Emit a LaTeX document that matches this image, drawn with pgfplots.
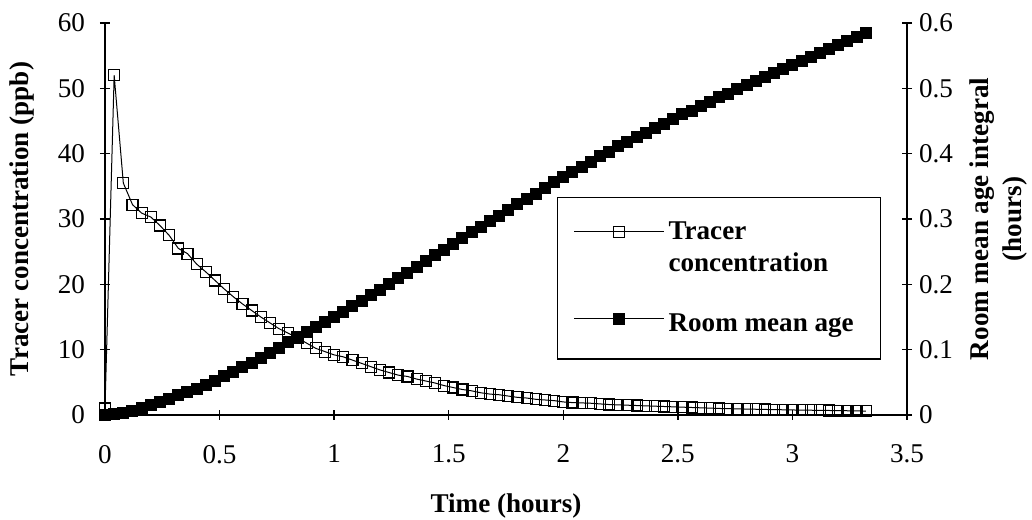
\documentclass[border=0pt]{standalone}
\usepackage{fontspec}
\setmainfont{Liberation Serif}
\usepackage{pgfplots}
\usepackage{pgfplotstable}
\pgfplotsset{compat=1.18}

\pgfplotstableread{
t c
0.00 1.0
0.04 52.0
0.08 35.5
0.12 32.2
0.16 30.9
0.20 30.3
0.24 29.0
0.28 27.5
0.32 25.5
0.36 24.7
0.40 23.1
0.44 21.9
0.48 20.6
0.52 19.3
0.56 18.1
0.60 17.0
0.64 16.0
0.68 15.0
0.72 14.1
0.76 13.2
0.80 12.5
0.84 11.8
0.88 11.0
0.92 10.2
0.96 9.7
1.00 9.2
1.04 8.9
1.08 8.4
1.12 7.9
1.16 7.4
1.20 6.9
1.24 6.5
1.28 6.1
1.32 5.9
1.36 5.5
1.40 5.2
1.44 4.9
1.48 4.5
1.52 4.2
1.56 3.9
1.60 3.7
1.64 3.4
1.68 3.2
1.72 3.1
1.76 2.9
1.80 2.7
1.84 2.6
1.88 2.4
1.92 2.3
1.96 2.2
2.00 2.0
2.04 1.9
2.08 1.85
2.12 1.8
2.16 1.7
2.20 1.6
2.24 1.55
2.28 1.5
2.32 1.45
2.36 1.4
2.40 1.35
2.44 1.3
2.48 1.25
2.52 1.2
2.56 1.15
2.60 1.1
2.64 1.05
2.68 1.0
2.72 0.97
2.76 0.94
2.80 0.91
2.84 0.88
2.88 0.85
2.92 0.82
2.96 0.8
3.00 0.77
3.04 0.75
3.08 0.73
3.12 0.71
3.16 0.69
3.20 0.67
3.24 0.65
3.28 0.63
3.32 0.6
}\tracer

\pgfplotstableread{
t a
0.00 0.000
0.04 0.001
0.08 0.003
0.12 0.006
0.16 0.010
0.20 0.015
0.24 0.020
0.28 0.025
0.32 0.030
0.36 0.035
0.40 0.040
0.44 0.046
0.48 0.052
0.52 0.059
0.56 0.066
0.60 0.073
0.64 0.080
0.68 0.088
0.72 0.095
0.76 0.103
0.80 0.111
0.84 0.119
0.88 0.127
0.92 0.134
0.96 0.142
1.00 0.150
1.04 0.158
1.08 0.167
1.12 0.175
1.16 0.184
1.20 0.192
1.24 0.201
1.28 0.210
1.32 0.218
1.36 0.227
1.40 0.236
1.44 0.245
1.48 0.253
1.52 0.262
1.56 0.271
1.60 0.280
1.64 0.288
1.68 0.297
1.72 0.305
1.76 0.314
1.80 0.323
1.84 0.331
1.88 0.339
1.92 0.348
1.96 0.356
2.00 0.364
2.04 0.372
2.08 0.380
2.12 0.388
2.16 0.396
2.20 0.403
2.24 0.411
2.28 0.418
2.32 0.425
2.36 0.432
2.40 0.439
2.44 0.446
2.48 0.453
2.52 0.460
2.56 0.466
2.60 0.473
2.64 0.479
2.68 0.486
2.72 0.492
2.76 0.499
2.80 0.505
2.84 0.511
2.88 0.518
2.92 0.524
2.96 0.530
3.00 0.536
3.04 0.542
3.08 0.548
3.12 0.554
3.16 0.560
3.20 0.566
3.24 0.572
3.28 0.578
3.32 0.584
}\roomage

\begin{document}
\begin{tikzpicture}
\pgfplotsset{
  common/.style={
    scale only axis, width=401bp, height=196bp,
    xmin=0, xmax=3.5,
    tick align=center, major tick length=5bp,
    tick style={line width=0.75bp, black},
    /pgf/number format/assume math mode=true,
    tick label style={font=\fontsize{13.6}{16}\selectfont},
    label style={font=\fontsize{13.6}{16}\selectfont\bfseries},
  },
  tracerstyle/.style={black, line width=0.5bp, mark=square, mark size=2.75bp,
    mark options={fill=white, line width=0.6bp, solid}},
  agestyle/.style={black, line width=0.5bp, mark=square*, mark size=2.75bp,
    mark options={fill=black, solid}},
}
\begin{axis}[common,
  axis x line=bottom, axis y line=left,
  x axis line style={-, line width=0.75bp, black},
  y axis line style={-, line width=0.75bp, black},
  ymin=0, ymax=60, ytick={0,10,20,30,40,50,60},
  xtick={0,0.5,1,1.5,2,2.5,3,3.5},
  xticklabel style={yshift=-9bp},
  yticklabel style={xshift=-4bp},
  ylabel={Tracer concentration (ppb)},
  ylabel style={at={(axis description cs:-0.1035,0.5)}, anchor=center, rotate=0},
  xlabel={Time (hours)},
  xlabel style={at={(axis description cs:0.5,-0.232)}, anchor=center},
]
\addplot[tracerstyle] table[x=t, y=c] {\tracer};
\end{axis}
\begin{axis}[common,
  axis x line=none, axis y line=right,
  y axis line style={-, line width=0.75bp, black},
  ymin=0, ymax=0.6, ytick={0,0.1,0.2,0.3,0.4,0.5,0.6},
  ylabel={\begin{tabular}{@{}c@{}}Room mean age integral\\(hours)\end{tabular}},
  ylabel style={at={(axis description cs:1.1135,0.5)}, anchor=center, rotate=0,
    font=\fontsize{13.6}{16.5}\selectfont\bfseries},
  legend style={at={(axis description cs:0.5636,0.556)}, anchor=north west,
    draw=black, line width=0.6bp, fill=white,
    font=\fontsize{13.6}{16}\selectfont\bfseries,
    cells={anchor=west, align=left},
    inner xsep=8bp, inner ysep=10bp, row sep=16bp},
  legend image code/.code={\draw[mark repeat=2, mark phase=2, #1] plot coordinates {(0bp,0bp) (22.5bp,0bp) (45bp,0bp)};},
]
\addlegendimage{tracerstyle, yshift=8bp}
\addlegendentry{Tracer\\concentration\hspace*{16bp}}
\addlegendimage{agestyle, yshift=3bp}
\addlegendentry{Room mean age\rule[-9bp]{0pt}{9bp}}
\addplot[agestyle, forget plot] table[x=t, y=a] {\roomage};
\end{axis}
\pgfresetboundingbox
\path[use as bounding box] (-52.5bp,-52.5bp) rectangle (463.5bp,207.5bp);
\end{tikzpicture}
\end{document}
